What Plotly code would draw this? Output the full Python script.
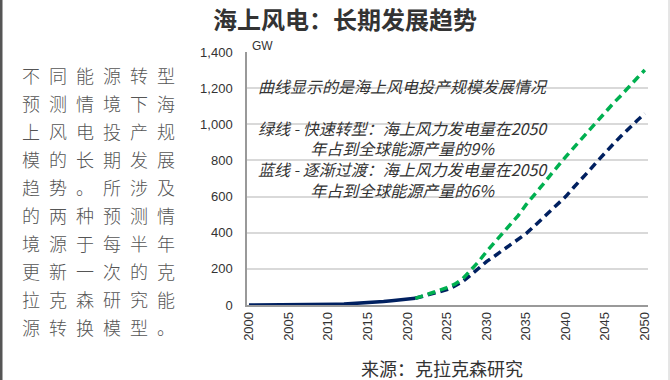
import plotly.graph_objects as go

# ---------------- data ----------------
hist_years = list(range(2000, 2022))
hist_values = [0, 0, 0, 0, 0, 0, 0, 0.5, 1, 2, 3, 4, 5, 7, 9, 12, 15, 19, 23, 28, 33, 37]

proj_years = list(range(2021, 2051))
fast_values = [37, 50, 65, 80, 96, 115, 145, 190, 240, 295, 345, 390, 440, 495, 555,
               605, 660, 715, 770, 820, 870, 920, 970, 1020, 1070, 1115, 1160, 1210, 1255, 1300]
gradual_values = [37, 48, 60, 72, 85, 105, 130, 165, 205, 240, 270, 300, 330, 365, 395,
                  435, 475, 515, 555, 600, 650, 695, 745, 795, 845, 890, 935, 980, 1020, 1060]

x_ticks = list(range(2000, 2051, 5))
y_ticks = [0, 200, 400, 600, 800, 1000, 1200, 1400]

title_text = "海上风电：长期发展趋势"
unit_text = "GW"
source_text = "来源：克拉克森研究"
note_lines = ["曲线显示的是海上风电投产规模发展情况",
              "",
              "绿线 - 快速转型：海上风力发电量在2050",
              "年占到全球能源产量的9%",
              "蓝线 - 逐渐过渡：海上风力发电量在2050",
              "年占到全球能源产量的6%"]
side_lines = ["不同能源转型", "预测情境下海", "上风电投产规", "模的长期发展", "趋势。所涉及",
              "的两种预测情", "境源于每半年", "更新一次的克", "拉克森研究能", "源转换模型。"]

GREEN = "#00B050"
NAVY = "#002060"
LATIN = "Liberation Sans, Arial, Noto Sans CJK SC"
CJK = "Noto Sans CJK SC, Liberation Sans"

W, H = 670, 380
L, R, T, B = 247, 22, 52, 75
PW, PH = W - L - R, H - T - B


def px_x(px):
    return (px - L) / PW


def px_y(py):
    return (H - B - py) / PH


fig = go.Figure()
fig.add_trace(go.Scatter(x=proj_years, y=gradual_values, mode="lines",
                         line=dict(color=NAVY, width=3.5, dash="8px,5px"),
                         hoverinfo="skip", showlegend=False))
fig.add_trace(go.Scatter(x=proj_years, y=fast_values, mode="lines",
                         line=dict(color=GREEN, width=3.5, dash="8px,5px"),
                         hoverinfo="skip", showlegend=False))
fig.add_trace(go.Scatter(x=hist_years, y=hist_values, mode="lines",
                         line=dict(color=NAVY, width=3.5),
                         hoverinfo="skip", showlegend=False))

annotations = []
annotations.append(dict(text="<b>" + title_text + "</b>", xref="paper", yref="paper",
                        x=px_x(345), y=px_y(18), showarrow=False,
                        xanchor="center", yanchor="middle",
                        font=dict(family=CJK, size=24, color="#333333")))
annotations.append(dict(text=unit_text, xref="paper", yref="paper",
                        x=px_x(250), y=px_y(46), showarrow=False,
                        xanchor="left", yanchor="middle",
                        font=dict(family=LATIN, size=12, color="#333333")))
annotations.append(dict(text=source_text, xref="paper", yref="paper",
                        x=px_x(442), y=px_y(368), showarrow=False,
                        xanchor="center", yanchor="middle",
                        font=dict(family=CJK, size=18, color="#333333")))

annotations.append(dict(text="<br>".join(note_lines), xref="paper", yref="paper",
                        x=px_x(403), y=px_y(138), showarrow=False,
                        xanchor="center", yanchor="middle", align="center",
                        font=dict(family=CJK, size=16, color="#333333", style="italic")))

for i, line in enumerate(side_lines):
    py = 75 + 28.0 * i
    annotations.append(dict(text="\u2002".join(line), xref="paper", yref="paper",
                            x=px_x(20), y=px_y(py), showarrow=False,
                            xanchor="left", yanchor="middle",
                            font=dict(family=CJK, size=18, color="#555555", weight=300)))

shapes = [
    dict(type="rect", xref="paper", yref="paper", x0=px_x(0), x1=px_x(2.5),
         y0=px_y(H), y1=px_y(0), fillcolor="#555555", line=dict(width=0)),
    dict(type="line", xref="paper", yref="paper", x0=px_x(669), x1=px_x(669),
         y0=px_y(H), y1=px_y(0), line=dict(color="#cccccc", width=1)),
]

fig.update_layout(
    width=W, height=H,
    margin=dict(l=L, r=R, t=T, b=B),
    paper_bgcolor="white", plot_bgcolor="white",
    showlegend=False,
    annotations=annotations,
    shapes=shapes,
    xaxis=dict(range=[1999.75, 2050.4], tickvals=x_ticks, ticktext=[str(v) for v in x_ticks],
               tickangle=-90, showgrid=False, zeroline=False,
               showline=True, linecolor="#999999", linewidth=1.5,
               ticks="", tickfont=dict(family=LATIN, size=13, color="#333333")),
    yaxis=dict(range=[0, 1400], tickvals=y_ticks, tickformat=",",
               showgrid=True, gridcolor="#d9d9d9", gridwidth=1.5, zeroline=False,
               showline=True, linecolor="#999999", linewidth=1.5,
               ticks="", ticklabelstandoff=10,
               tickfont=dict(family=LATIN, size=13, color="#333333")),
)

fig.write_html("out.html", config={"displayModeBar": False},
               post_script="document.body.style.margin='0';")
